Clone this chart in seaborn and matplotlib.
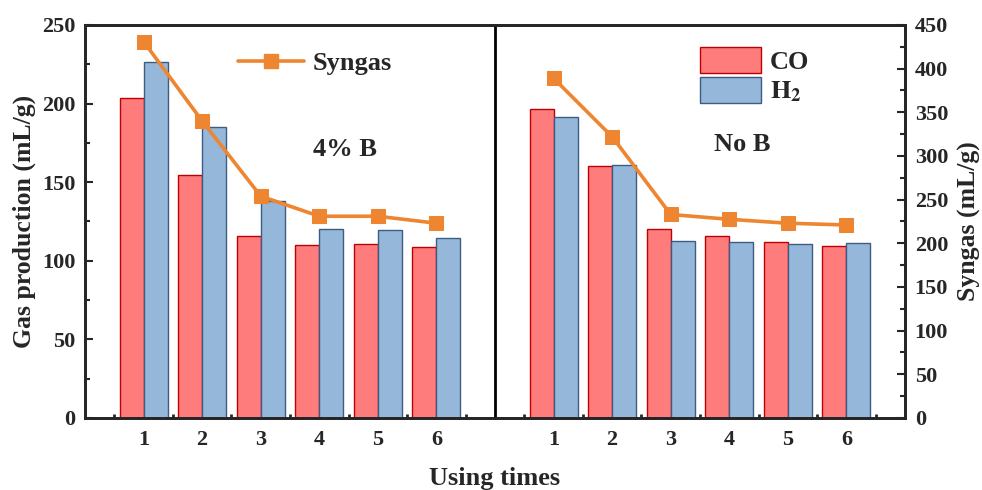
import matplotlib
matplotlib.use("Agg")
import matplotlib.pyplot as plt
from matplotlib.ticker import MultipleLocator, FixedLocator
from matplotlib.lines import Line2D
import numpy as np
import pandas as pd
import seaborn as sns

# ---- data ----
times = [1, 2, 3, 4, 5, 6]
co_4b = [203.5, 154.5, 115.8, 110.3, 110.7, 108.6]
h2_4b = [226.7, 185.4, 138.0, 120.0, 119.6, 114.3]
syn_4b = [431, 340, 254, 231, 231, 223]
co_nob = [196.8, 160.2, 120.4, 115.8, 111.7, 109.4]
h2_nob = [191.3, 160.8, 112.4, 112.2, 110.9, 111.3]
syn_nob = [389, 322, 233, 227.5, 223, 221]
panels = ["4% B", "No B"]
gas_labels = ["CO", r"$\mathbf{H_2}$"]

sns.set_style("ticks")
plt.rcParams["font.family"] = ["Liberation Serif", "DejaVu Serif"]
plt.rcParams["font.weight"] = "bold"
plt.rcParams["axes.labelweight"] = "bold"
plt.rcParams["mathtext.fontset"] = "stix"

# positions: panel 1 -> 1..6, panel 2 -> 8..13
pos_4b = [t for t in times]
pos_nob = [t + 7 for t in times]

rows = []
for p, c, h in zip(pos_4b + pos_nob, co_4b + co_nob, h2_4b + h2_nob):
    rows.append({"pos": p, "val": c, "gas": gas_labels[0]})
    rows.append({"pos": p, "val": h, "gas": gas_labels[1]})
df = pd.DataFrame(rows)

co_face, co_edge = "#FF7C7C", "#C00000"
h2_face, h2_edge = "#95B7DA", "#3E5C82"
orange = "#EE8530"

fig = plt.figure(figsize=(9.82, 4.90), dpi=100)
ax = fig.add_axes([0.0866, 0.147, 0.835, 0.802])

sns.barplot(data=df, x="pos", y="val", hue="gas", native_scale=True,
            palette={gas_labels[0]: co_face, gas_labels[1]: h2_face},
            width=0.82, ax=ax, legend=False, saturation=1, zorder=2)
edges = [co_edge, h2_edge]
for cont, ec in zip(ax.containers, edges):
    for b in cont:
        b.set_edgecolor(ec)
        b.set_linewidth(1.0)

ax.set_xlim(0, 14)
ax.set_ylim(0, 250)
ax.axvline(7, color="black", lw=2.0, zorder=5)

ax.xaxis.set_major_locator(FixedLocator(pos_4b + pos_nob))
ax.set_xticklabels([str(t) for t in times] * 2)
ax.xaxis.set_minor_locator(FixedLocator([t - 0.5 for t in range(1, 8)] + [t + 7 - 0.5 for t in range(1, 8)]))
ax.yaxis.set_major_locator(MultipleLocator(50))
ax.yaxis.set_minor_locator(MultipleLocator(25))
ax.tick_params(axis="x", which="major", length=0, pad=9, labelsize=16)
ax.tick_params(axis="x", which="minor", length=3, width=2, direction="in")
ax.tick_params(axis="y", which="major", length=6, width=1.5, direction="in", labelsize=16, pad=7)
ax.tick_params(axis="y", which="minor", length=3.5, width=1.5, direction="in")
for lab in ax.get_xticklabels() + ax.get_yticklabels():
    lab.set_fontweight("bold")

ax.set_ylabel("Gas production (mL/g)", fontsize=18.5, fontweight="bold")
ax.yaxis.set_label_coords(-0.06, 0.5)
ax.set_xlabel("Using times", fontsize=19, fontweight="bold")
ax.xaxis.set_label_coords(0.5, -0.125)

ax2 = ax.twinx()
sns.lineplot(x=pos_4b, y=syn_4b, ax=ax2, color=orange, lw=2.6, marker="s",
             markersize=10, markeredgecolor=orange, legend=False)
sns.lineplot(x=pos_nob, y=syn_nob, ax=ax2, color=orange, lw=2.6, marker="s",
             markersize=10, markeredgecolor=orange, legend=False)
ax2.set_ylim(0, 450)
ax2.yaxis.set_major_locator(MultipleLocator(50))
ax2.yaxis.set_minor_locator(MultipleLocator(25))
ax2.tick_params(axis="y", which="major", length=6, width=1.5, direction="in", labelsize=16, pad=7)
ax2.tick_params(axis="y", which="minor", length=3.5, width=1.5, direction="in")
for lab in ax2.get_yticklabels():
    lab.set_fontweight("bold")
ax2.set_ylabel("Syngas (mL/g)", fontsize=18.5, fontweight="bold", rotation=90)
ax2.yaxis.set_label_coords(1.064, 0.5)

for a in (ax, ax2):
    for s in a.spines.values():
        s.set_linewidth(2.0)
        s.set_visible(True)

# legends
h_syn = Line2D([], [], color=orange, lw=2.6, marker="s", markersize=10)
leg1 = ax2.legend([h_syn], ["Syngas"], loc="center left", bbox_to_anchor=(0.187, 0.903),
                  frameon=False, borderpad=0, borderaxespad=0, handlelength=2.5,
                  handletextpad=0.3, prop={"size": 19, "weight": "bold"})
leg2 = ax2.legend(ax.containers, ["CO", r"$\mathbf{H_2}$"], loc="upper left",
                  bbox_to_anchor=(0.75, 0.944), frameon=False, borderpad=0,
                  borderaxespad=0, handlelength=2.3, handleheight=1.15,
                  labelspacing=0.1, handletextpad=0.35,
                  prop={"size": 19, "weight": "bold"})
ax2.add_artist(leg1)

ax.text(0.317, 0.682, "4% B", transform=ax.transAxes, ha="center", va="center",
        fontsize=19, fontweight="bold")
ax.text(0.802, 0.695, "No B", transform=ax.transAxes, ha="center", va="center",
        fontsize=19, fontweight="bold")

fig.savefig("out.png", dpi=100)
